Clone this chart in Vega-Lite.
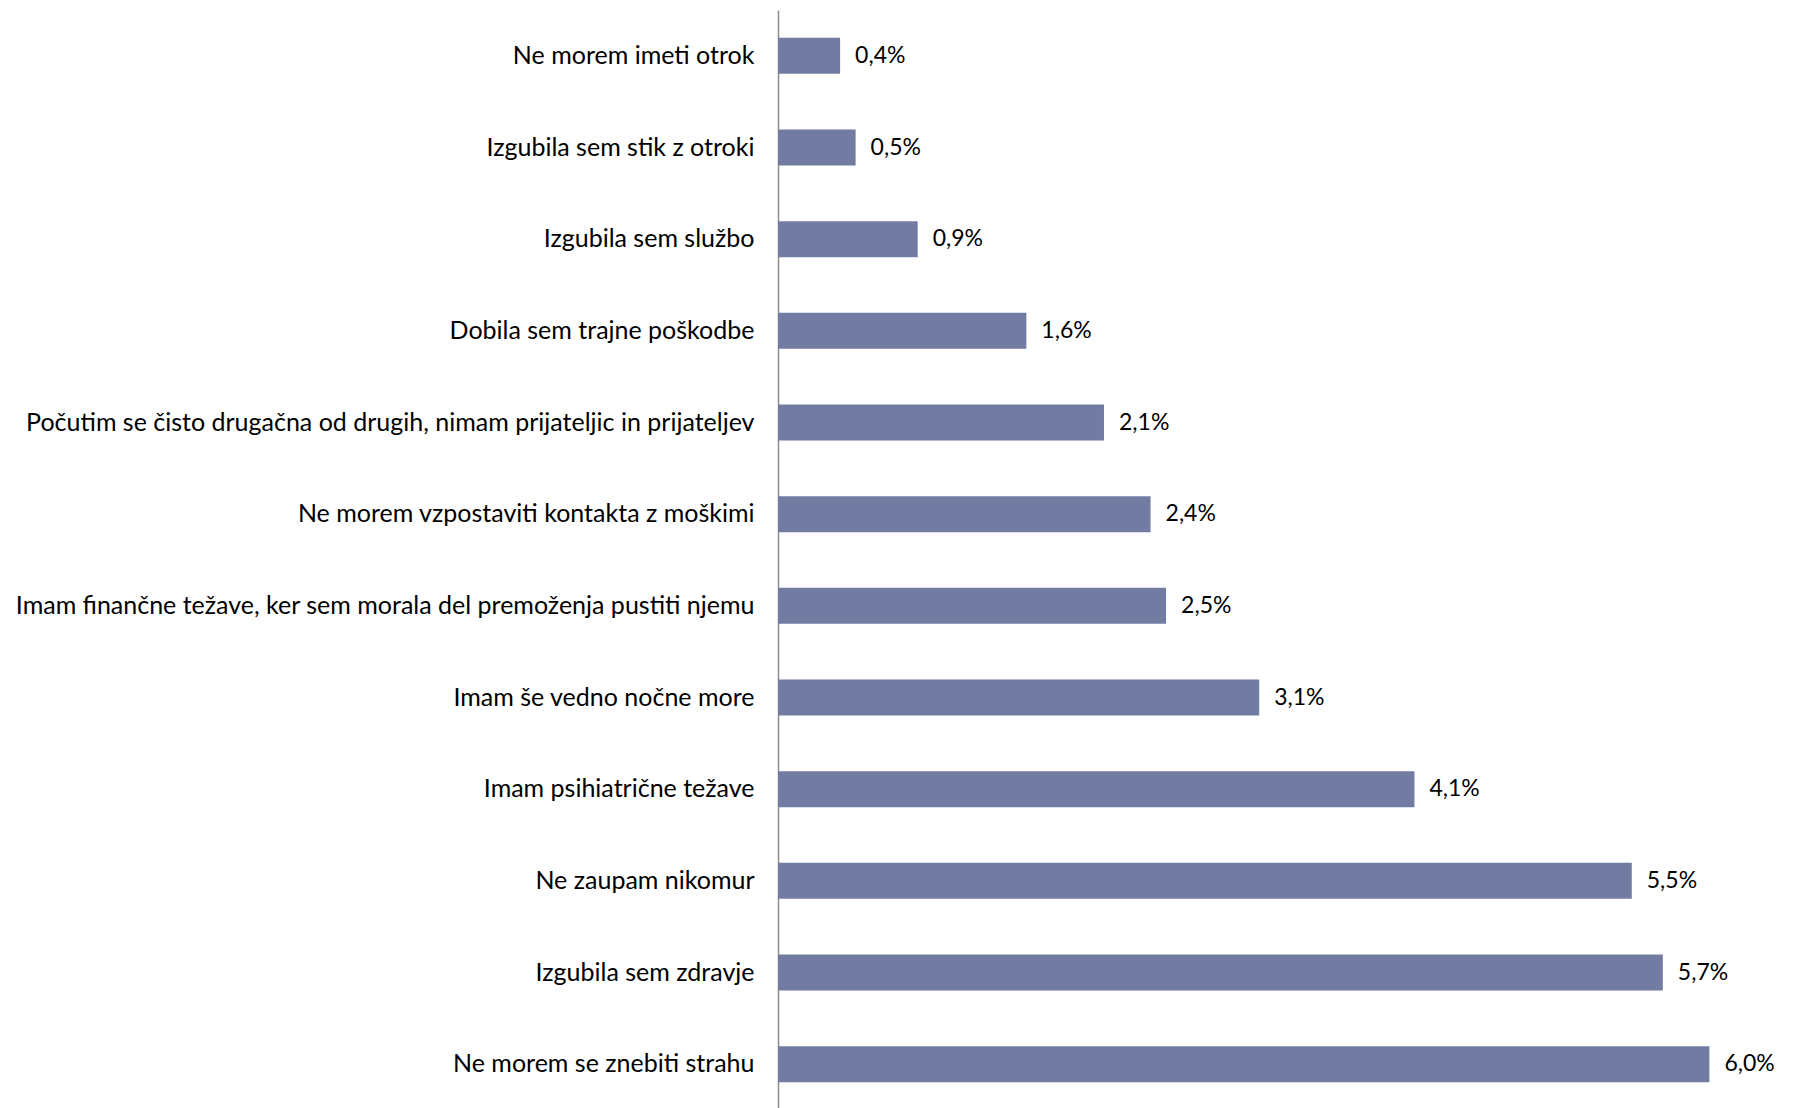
{
  "$schema": "https://vega.github.io/schema/vega-lite/v6.json",
  "autosize": "none",
  "padding": {"left": 778, "top": 10, "right": 30, "bottom": 0},
  "width": 1009,
  "height": 1100,
  "background": "white",
  "config": {
    "locale": {"number": {"decimal": ",", "thousands": ".", "grouping": [3], "currency": ["", " €"]}},
    "view": {"stroke": null},
    "font": "Lato"
  },
  "data": {
    "values": [
      {"reason": "Ne morem imeti otrok", "share": 0.004},
      {"reason": "Izgubila sem stik z otroki", "share": 0.005},
      {"reason": "Izgubila sem službo", "share": 0.009},
      {"reason": "Dobila sem trajne poškodbe", "share": 0.016},
      {"reason": "Počutim se čisto drugačna od drugih, nimam prijateljic in prijateljev", "share": 0.021},
      {"reason": "Ne morem vzpostaviti kontakta z moškimi", "share": 0.024},
      {"reason": "Imam finančne težave, ker sem morala del premoženja pustiti  njemu", "share": 0.025},
      {"reason": "Imam še vedno nočne more", "share": 0.031},
      {"reason": "Imam psihiatrične težave", "share": 0.041},
      {"reason": "Ne zaupam nikomur", "share": 0.055},
      {"reason": "Izgubila sem zdravje", "share": 0.057},
      {"reason": "Ne morem se znebiti strahu", "share": 0.060}
    ]
  },
  "encoding": {
    "y": {
      "field": "reason",
      "type": "nominal",
      "sort": null,
      "scale": {"paddingInner": 0.607, "paddingOuter": 0.3035},
      "axis": {
        "title": null,
        "ticks": false,
        "labelPadding": 24,
        "labelLimit": 900,
        "labelFontSize": 25,
        "labelFont": "Lato",
        "labelColor": "#000000",
        "domainColor": "#8c8c8c",
        "domainWidth": 1.5
      }
    },
    "x": {
      "field": "share",
      "type": "quantitative",
      "scale": {"domain": [0, 0.065], "nice": false},
      "axis": null
    }
  },
  "layer": [
    {"mark": {"type": "bar", "color": "#727ca3"}},
    {
      "mark": {"type": "text", "align": "left", "baseline": "middle", "dx": 15, "fontSize": 23, "font": "Lato", "color": "#000000"},
      "encoding": {"text": {"field": "share", "type": "quantitative", "format": ".1%"}}
    }
  ]
}
